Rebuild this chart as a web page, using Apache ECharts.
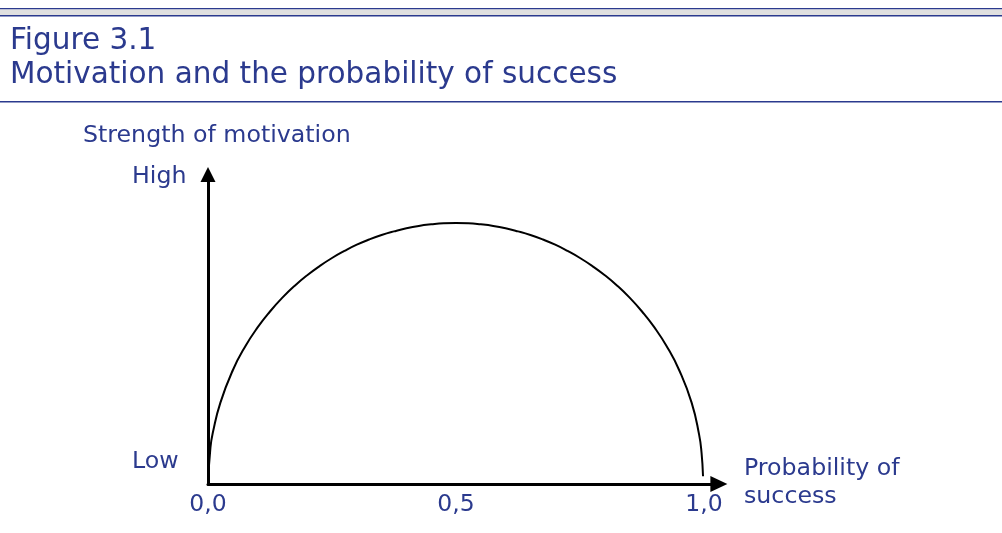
<!DOCTYPE html>
<html>
<head>
<meta charset="utf-8">
<title>Figure 3.1</title>
<script src="https://cdn.jsdelivr.net/npm/echarts@6/dist/echarts.min.js"></script>
<style>
  html, body { margin: 0; padding: 0; background: #ffffff; }
  #chart { width: 1002px; height: 533px; }
</style>
</head>
<body>
<div id="chart"></div>
<script>
// values (probability of success vs strength of motivation, peak = 100)
var probability = [0, 0.005, 0.01, 0.025, 0.05, 0.075, 0.1, 0.125, 0.15, 0.175, 0.2, 0.225,
  0.25, 0.275, 0.3, 0.325, 0.35, 0.375, 0.4, 0.425, 0.45, 0.475, 0.5,
  0.525, 0.55, 0.575, 0.6, 0.625, 0.65, 0.675, 0.7, 0.725, 0.75, 0.775,
  0.8, 0.825, 0.85, 0.875, 0.9, 0.925, 0.95, 0.975, 0.99, 0.995, 0.998];
var motivation = [0, 14.1, 19.9, 31.2, 43.6, 52.7, 60.0, 66.1, 71.4, 76.0, 80.0, 83.5,
  86.6, 89.3, 91.7, 93.7, 95.4, 96.8, 98.0, 98.9, 99.5, 99.9, 100,
  99.9, 99.5, 98.9, 98.0, 96.8, 95.4, 93.7, 91.7, 89.3, 86.6, 83.5,
  80.0, 76.0, 71.4, 66.1, 60.0, 52.7, 43.6, 31.2, 19.0, 12.0, 3.0];
var xTicks = ['0,0', '0,5', '1,0'];
var titleLines = ['Figure 3.1', 'Motivation and the probability of success'];
var yAxisName = 'Strength of motivation';
var yEnds = ['High', 'Low'];
var xAxisName = ['Probability of', 'success'];

var blue = '#2b3a8e';
var font = '"DejaVu Sans", Verdana, sans-serif';

var points = probability.map(function (p, i) { return [p, motivation[i]]; });

var chart = echarts.init(document.getElementById('chart'), null, { renderer: 'canvas' });

function label(text, x, y, size) {
  return {
    type: 'text', x: x, y: y,
    style: { text: text, fill: blue, font: size + 'px ' + font }
  };
}

var option = {
  animation: false,
  backgroundColor: '#ffffff',
  grid: { left: 208, top: 174.5, width: 510.9, height: 309.5 },
  xAxis: {
    type: 'value',
    min: 0,
    max: 1.03,
    interval: 0.5,
    splitLine: { show: false },
    axisTick: { show: false },
    axisLine: {
      show: true,
      onZero: false,
      symbol: ['none', 'triangle'],
      symbolSize: [16, 17],
      lineStyle: { color: '#000', width: 3 }
    },
    axisLabel: {
      color: blue,
      fontFamily: font,
      fontSize: 23.5,
      margin: 9,
      showMaxLabel: false,
      formatter: function (v) {
        var idx = Math.round(v / 0.5);
        return xTicks[idx] || '';
      }
    }
  },
  yAxis: {
    type: 'value',
    min: 0,
    max: 118.6,
    splitLine: { show: false },
    axisTick: { show: false },
    axisLabel: { show: false },
    axisLine: {
      show: true,
      symbol: ['none', 'triangle'],
      symbolSize: [15, 15],
      lineStyle: { color: '#000', width: 3 }
    }
  },
  series: [{
    type: 'line',
    data: points,
    smooth: 0.5,
    showSymbol: false,
    lineStyle: { color: '#000', width: 2 },
    z: 1
  }],
  graphic: [
    // header bands
    { type: 'rect', left: 0, top: 8, shape: { width: 1002, height: 1.5 }, style: { fill: blue } },
    { type: 'rect', left: 0, top: 9.5, shape: { width: 1002, height: 5.5 }, style: { fill: '#e0e0e0' } },
    { type: 'rect', left: 0, top: 15, shape: { width: 1002, height: 1.5 }, style: { fill: blue } },
    { type: 'rect', left: 0, top: 101, shape: { width: 1002, height: 1.5 }, style: { fill: blue } },
    label(titleLines[0], 10, 26, 29.5),
    label(titleLines[1], 10, 60, 29.5),
    label(yAxisName, 83, 124, 23.7),
    label(yEnds[0], 132, 165, 23.7),
    label(yEnds[1], 132, 450, 23.7),
    label(xAxisName[0], 744, 457, 23.7),
    label(xAxisName[1], 744, 485, 23.7)
  ]
};

chart.setOption(option);
</script>
</body>
</html>
